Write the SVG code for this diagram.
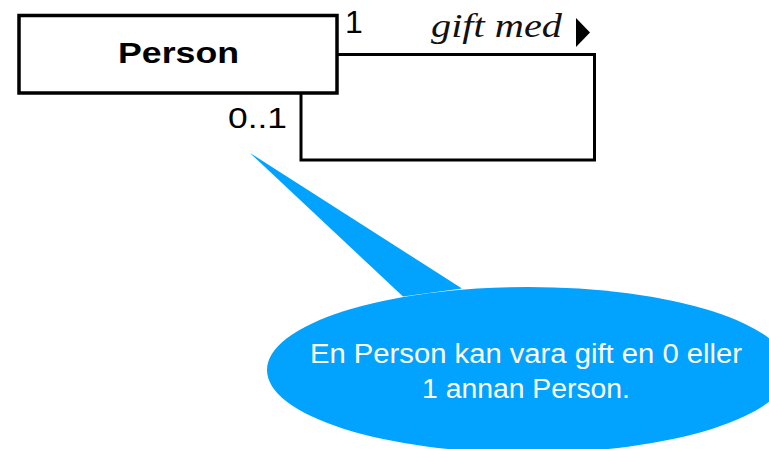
<svg xmlns="http://www.w3.org/2000/svg" width="769" height="449" viewBox="0 0 769 449">
  <style>
    .box { fill: #ffffff; stroke: #000000; stroke-width: 3.5; }
    .assoc { fill: none; stroke: #000000; stroke-width: 3; }
    .sans { font-family: "Liberation Sans", Arial, sans-serif; fill: #000000; }
    .serif-it { font-family: "Liberation Serif", "Times New Roman", serif; font-style: italic; fill: #111111; }
    .note { fill: #02A3FE; }
    .note-text { font-family: "Liberation Sans", Arial, sans-serif; fill: #ffffff; font-size: 27px; }
  </style>

  <!-- self-association "gift med" -->
  <g id="connectors">
    <path class="assoc" d="M337 54.5 H594.5 V160 H301 V93"/>
    <text class="sans" x="345" y="33" font-size="32">1</text>
    <text class="sans" x="228" y="128" font-size="30" textLength="59" lengthAdjust="spacingAndGlyphs">0..1</text>
    <text class="serif-it" x="431" y="37" font-size="33" textLength="131" lengthAdjust="spacingAndGlyphs">gift med</text>
    <polygon points="576,18 590,32.5 576,47" fill="#000000"/>
  </g>

  <!-- class Person -->
  <g id="person">
    <rect class="box" x="19" y="15.5" width="318" height="77.5"/>
    <text class="sans" x="178.5" y="63" font-size="29" font-weight="bold" text-anchor="middle" textLength="121" lengthAdjust="spacingAndGlyphs">Person</text>
  </g>

  <!-- comment balloon -->
  <g id="note">
    <ellipse class="note" cx="528" cy="370" rx="261" ry="83"/>
    <polygon class="note" points="250,153 462,288.5 403,296.5"/>
    <text class="note-text" x="526" y="363" text-anchor="middle" textLength="432" lengthAdjust="spacingAndGlyphs">En Person kan vara gift en 0 eller</text>
    <text class="note-text" x="526" y="398" text-anchor="middle" textLength="208" lengthAdjust="spacingAndGlyphs">1 annan Person.</text>
  </g>
</svg>
